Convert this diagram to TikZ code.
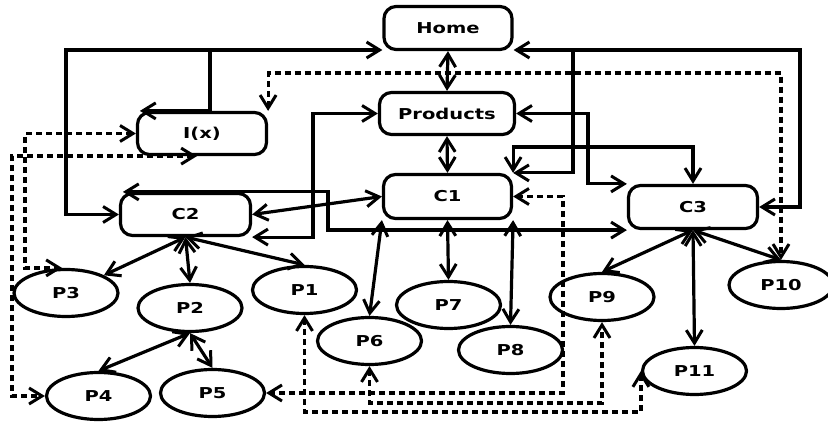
\documentclass[tikz,border=0pt]{standalone}
\usepackage{fontspec}
\newfontfamily\lblfont{DejaVu Sans}[FakeStretch=1.3]
\usetikzlibrary{arrows.meta,calc,shapes.geometric}
\begin{document}
\begin{tikzpicture}[x=1pt,y=-1pt,
  line width=3.2pt,
  font=\lblfont\bfseries\fontsize{15}{18}\selectfont,
  pagebox/.style={draw, rounded corners=12pt, inner sep=0pt, minimum width=129pt, minimum height=43pt},
  pageell/.style={draw, ellipse, inner sep=0pt, minimum width=104pt, minimum height=47pt},
  arr/.style={-{Straight Barb[length=13pt,width=16pt,line width=3pt]}},
  dbl/.style={{Straight Barb[length=13pt,width=16pt,line width=3pt]}-{Straight Barb[length=13pt,width=16pt,line width=3pt]}},
  ddbl/.style={dbl, dash pattern=on 6pt off 4pt}
]
\useasboundingbox (0,0) rectangle (828,425);
% rounded boxes
\node[pagebox, minimum width=128pt] (home) at (448,28) {Home};
\node[pagebox, minimum width=135pt, minimum height=42pt] (prod) at (447,113.5) {Products};
\node[pagebox, minimum width=128pt, minimum height=44pt] (c1) at (447.5,196.5) {C1};
\node[pagebox] (c3) at (693,207) {C3};
\node[pagebox, minimum height=42pt] (ix) at (202,133.5) {I(x)};
\node[pagebox, minimum width=130pt, minimum height=42pt] (c2) at (185.5,214.5) {C2};
% ellipses
\node[pageell] (p3) at (66,293) {P3};
\node[pageell] (p2) at (190,308) {P2};
\node[pageell] (p1) at (304.5,290) {P1};
\node[pageell] (p6) at (369.5,341) {P6};
\node[pageell] (p4) at (98.5,396) {P4};
\node[pageell] (p5) at (212.5,393) {P5};
\node[pageell] (p7) at (448.5,305) {P7};
\node[pageell] (p8) at (510.5,350) {P8};
\node[pageell] (p9) at (602,297) {P9};
\node[pageell] (p10) at (781,285) {P10};
\node[pageell] (p11) at (694.5,371) {P11};
% helper coordinates
\coordinate (J1) at (210,50);
\coordinate (J2) at (66,50);
\coordinate (K1) at (573,50);
\coordinate (K2) at (800,50);
\coordinate (Pb) at (588,150);
\coordinate (Q) at (600,147);
\coordinate (R) at (313,170);
\coordinate (S) at (328,210);
\coordinate (T) at (500,73);
\coordinate (U) at (25,200);
\coordinate (V) at (12,300);
\coordinate (W) at (563,300);
\coordinate (X) at (500,412);
\coordinate (Y) at (500,403);
% vertical spine
\draw[dbl] (home.south) -- (prod.north);
\draw[dbl] (prod.south) -- (c1.north);
% left tree
\draw[arr] (J1) -- (J1 -| home.west);
\draw[arr] (J1) -- (J1 |- ix.north) -- ($(ix.north west)+(4,0)$);
\draw[arr] (J1) -- (J2) |- (c2.west);
% right tree
\draw[arr] (K1) -- (K1 -| home.east);
\draw[arr] (K1) -- (K2) |- (c3.east);
\draw[arr] (K1) |- (c1.north east);
% other solid connectors
\draw[dbl] (prod.east) -| (Pb) |- (c3.north west);
\draw[dbl] (c1.north east) |- (Q) -| (c3.north);
\draw[dbl] (c2.south east) -| (R) |- (prod.west);
\draw[dbl] ($(c2.north west)+(4,0)$) -| (S) |- (c3.south west);
\draw[dbl] (c2.east) -- (c1.west);
% fans
\draw[dbl] (c2.south) -- (p3);
\draw[dbl] (c2.south) -- (p2.north);
\draw[dbl] (c2.south) -- (p1.north);
\draw[dbl] (p2.south) -- (p4.north);
\draw[dbl] (p2.south) -- (p5.north);
\draw[dbl] (c1.south west) -- (p6.north);
\draw[dbl] (c1.south) -- (p7.north);
\draw[dbl] (c1.south east) -- (p8.north);
\draw[dbl] (c3.south) -- (p9.north);
\draw[dbl] (c3.south) -- (p11.north);
\draw[dbl] (c3.south) -- (p10.north);
% dashed connectors
\draw[ddbl] (ix.north east) |- (T) -| (p10.north);
\draw[ddbl] (ix.west) -| (U) |- ($(p3.north)+(-4,0)$);
\draw[ddbl] ($(ix.south)+(-5,0)$) -| (V) |- (p4.west);
\draw[ddbl] (c1.east) -| (W) |- (p5.east);
\draw[ddbl] (p1.south) |- (X) -| (p11.west);
\draw[ddbl] (p6.south) |- (Y) -| (p9.south);
\end{tikzpicture}
\end{document}
